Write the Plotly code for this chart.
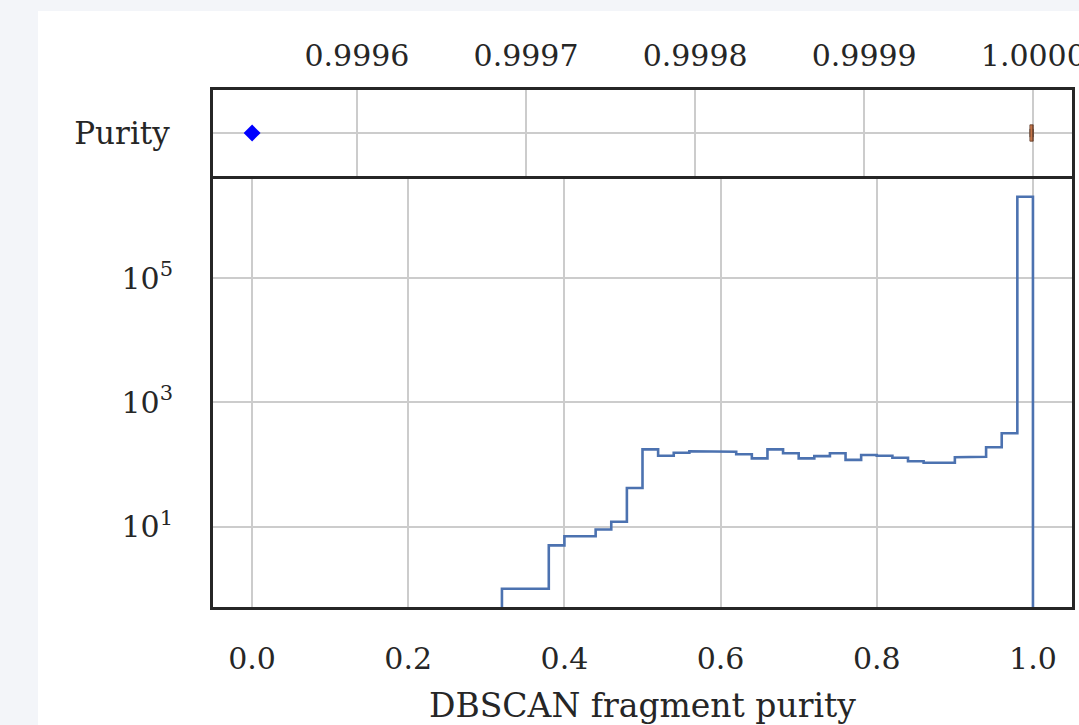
import numpy as np
import plotly.graph_objects as go

# ---------------- data ----------------
bin_edges = np.round(np.linspace(0.0, 1.0, 51), 4)
counts = [0] * 16 + [
    1, 1, 1,          # 0.32-0.38
    5,                # 0.38-0.40
    7, 7,             # 0.40-0.44
    9, 12, 42,        # 0.44-0.50
    176, 139, 155, 164, 161, 161, 147, 126, 176, 152,   # 0.50-0.70
    126, 137, 152, 119, 143, 139, 129, 113, 107, 107,   # 0.70-0.90
    131, 134, 190, 319, 2060000,                        # 0.90-1.00
]
box_label = "Purity"
purity_mean = 0.999538
box_q1 = 0.999998
box_median = 1.0
box_q3 = 1.0
box_lower = 1.0
box_upper = 1.0
x_title = "DBSCAN fragment purity"
bottom_ticks = [0.0, 0.2, 0.4, 0.6, 0.8, 1.0]
top_ticks = [0.9996, 0.9997, 0.9998, 0.9999, 1.0000]
y_ticks = [1e1, 1e3, 1e5]
y_ticktext = ["10<sup>1</sup>", "10<sup>3</sup>", "10<sup>5</sup>"]

# ---------------- style ----------------
W, H = 1079, 725
L, R, T, B = 213, 7, 90, 118
FONT = "DejaVu Serif"
FS = 30
TXT = "#262626"
GRID = "#cccccc"
FRAME = "#262626"
BG = "#f3f5f9"
HIST_COLOR = "#4c72b0"
BOX_COLOR = "#dd8452"
y_log_range = [-0.293, 6.647]
split = 431 / 517

# step outline built from edges and counts
floor = 10 ** (y_log_range[0] - 1)
cvals = np.array(counts, dtype=float)
cvals = np.where(cvals > 0, cvals, floor)
step_x = np.concatenate([bin_edges[:1], np.repeat(bin_edges[1:-1], 2), bin_edges[-1:]])
step_y = np.repeat(cvals, 2)
step_x = np.concatenate([[bin_edges[0]], step_x, [bin_edges[-1]]])
step_y = np.concatenate([[floor], step_y, [floor]])

fig = go.Figure()

fig.add_trace(go.Scatter(
    x=step_x, y=step_y, mode="lines",
    line=dict(color=HIST_COLOR, width=2.6),
    xaxis="x", yaxis="y", showlegend=False, hoverinfo="skip",
))

fig.add_trace(go.Box(
    y=[box_label], q1=[box_q1], median=[box_median], q3=[box_q3],
    lowerfence=[box_lower], upperfence=[box_upper],
    orientation="h", width=0.19,
    fillcolor=BOX_COLOR, line=dict(color="#5a3a2a", width=0.8),
    xaxis="x2", yaxis="y2", showlegend=False,
))

fig.add_trace(go.Scatter(
    x=[purity_mean], y=[box_label], mode="markers",
    marker=dict(symbol="diamond", color="#0000ff", size=13, line=dict(width=0)),
    xaxis="x2", yaxis="y2", showlegend=False,
))

axis_common = dict(
    showline=True, linecolor=FRAME, linewidth=3,
    showgrid=True, gridcolor=GRID, gridwidth=2,
    zeroline=False, ticks="", automargin=False,
    tickfont=dict(family=FONT, size=FS, color=TXT),
    ticklabeloverflow="allow",
)

fig.update_layout(
    width=W, height=H,
    margin=dict(l=L, r=R, t=T, b=B, autoexpand=False),
    paper_bgcolor=BG, plot_bgcolor="white",
    font=dict(family=FONT, size=FS, color=TXT),
    showlegend=False,
    xaxis=dict(
        **axis_common, domain=[0, 1], anchor="y", range=[-0.05, 1.05],
        tickvals=bottom_ticks, ticktext=[f"{v:.1f}" for v in bottom_ticks],
        mirror=False, ticklabelstandoff=23,
        title=dict(text=x_title, font=dict(family=FONT, size=33, color=TXT), standoff=24),
    ),
    yaxis=dict(
        **axis_common, domain=[0, split], anchor="x", type="log", range=y_log_range,
        tickvals=y_ticks, ticktext=y_ticktext, mirror=True, ticklabelstandoff=31,
    ),
    xaxis2=dict(
        **axis_common, domain=[0, 1], anchor="y2", side="top",
        range=[0.99951487, 1.0000229],
        tickvals=top_ticks, ticktext=[f"{v:.4f}" for v in top_ticks],
        mirror=True, ticklabelstandoff=9,
    ),
    yaxis2=dict(
        **axis_common, domain=[split, 1], anchor="x2", type="category",
        range=[-0.5, 0.5], mirror=True, ticklabelstandoff=34,
    ),
    shapes=[dict(
        type="rect", xref="paper", yref="paper", layer="below",
        x0=(38 - L) / (W - L - R), x1=1.2,
        y0=-0.5, y1=(H - B - 11) / (H - T - B),
        fillcolor="white", line=dict(width=0),
    )],
)
fig.update_yaxes(selector=dict(type="category"), tickfont=dict(family=FONT, size=31, color=TXT))

fig.write_html("out.html")
